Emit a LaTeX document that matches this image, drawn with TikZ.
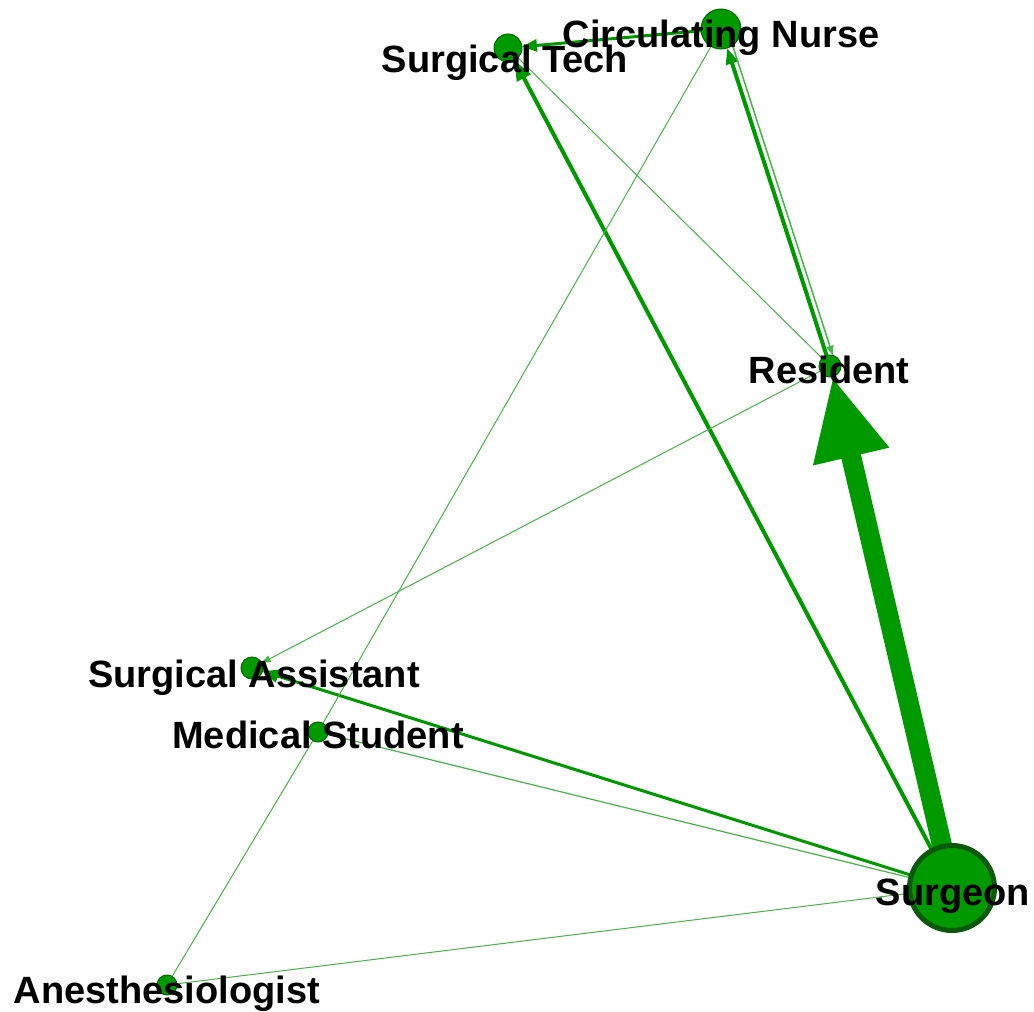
\documentclass[tikz,border=0pt]{standalone}
\usepackage{fontspec}
\setmainfont{Liberation Sans}
\usetikzlibrary{arrows.meta,calc}
\pgfdeclarelayer{edges}
\pgfsetlayers{edges,main}
\definecolor{edgegreen}{RGB}{0,153,0}
\definecolor{thingreen}{RGB}{70,180,70}
\definecolor{nodegreen}{RGB}{0,153,0}
\definecolor{rimgreen}{RGB}{0,105,0}
\definecolor{hubrim}{RGB}{12,88,12}

\begin{document}
\begin{tikzpicture}[x=1pt,y=-1pt,
  actor/.style={circle, fill=nodegreen, draw=rimgreen, line width=1pt,
                inner sep=0pt, outer sep=0pt, minimum size=#1},
  hub/.style={circle, fill=nodegreen, draw=hubrim, line width=5pt,
              inner sep=0pt, outer sep=0pt, minimum size=#1},
  role/.style={font=\fontsize{38}{42}\selectfont\bfseries, anchor=base,
               inner sep=0pt, text=black},
  tie/.style={draw=edgegreen, line width=#1},
  faint/.style={draw=thingreen, line width=#1},
]
\useasboundingbox (0,0) rectangle (1034,1012);

% team members
\node[actor=40pt] (cn)  at (721,29)  {};
\node[actor=28pt] (st)  at (508,48)  {};
\node[actor=22pt] (res) at (830,366) {};
\node[hub=85pt]   (sur) at (952,888) {};
\node[actor=22pt] (sa)  at (252,668) {};
\node[actor=20pt] (ms)  at (318,732) {};
\node[actor=20pt] (an)  at (167,985) {};

% communication ties
\begin{pgfonlayer}{edges}
\draw[tie=20pt, -{Triangle[length=82pt,width=72pt]}] (sur) -- (res);
\draw[tie=4pt, -{Triangle[length=20pt,width=15pt]}] (sur) -- (st);
\draw[tie=3pt, -{Triangle[length=16pt,width=13pt]}] (sur) -- (sa);
\draw[faint=1.2pt] (sur) -- (ms);
\draw[faint=1pt] (sur) -- (an);
\draw[tie=4pt, -{Triangle[length=16pt,width=12pt]}] (res) -- (cn);
\draw[faint=1.5pt, -{Triangle[length=10pt,width=7pt]},
      shorten <=17pt, shorten >=9pt]
  ([shift={(5.7,-1.8)}]cn.center) -- ([shift={(5.7,-1.8)}]res.center);
\draw[tie=3pt, -{Triangle[length=15pt,width=12pt]}] (cn) -- (st);
\draw[faint=1pt] (res) -- (st);
\draw[faint=1pt, -{Triangle[length=9pt,width=7pt]}] (res) -- (sa);
\draw[faint=1pt] (cn) -- (ms);
\draw[faint=1pt] (ms) -- (an);
\end{pgfonlayer}

% role names
\node[role] (cnL)  at ($(cn)+(0,18)$)  {Circulating Nurse};
\node[role] (stL)  at ($(st)+(-3,24)$) {Surgical Tech};
\node[role] (resL) at ($(res)+(-1,17)$) {Resident};
\node[role] (surL) at ($(sur)+(1,17)$) {Surgeon};
\node[role] (saL)  at ($(sa)+(2,19)$)  {Surgical Assistant};
\node[role] (msL)  at ($(ms)+(0,16)$)  {Medical Student};
\node[role] (anL)  at ($(an)+(0,18)$)  {Anesthesiologist};
\end{tikzpicture}
\end{document}
